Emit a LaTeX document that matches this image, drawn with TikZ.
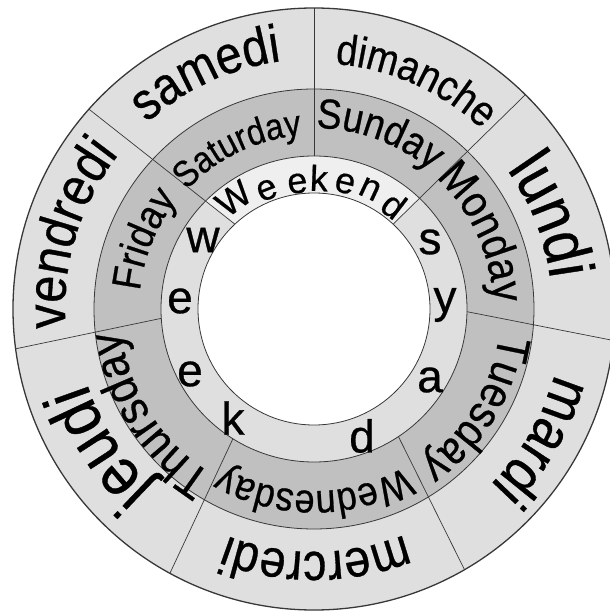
\documentclass[tikz,border=0pt]{standalone}
\usepackage{fontspec}
\setmainfont{Liberation Sans}
\newfontfamily\dayfont[FakeStretch=0.88, FakeBold=0.6]{Liberation Sans}
\newfontfamily\letterfont[FakeBold=0.6]{Liberation Sans}
\usetikzlibrary{decorations.text}
\definecolor{ringlight}{HTML}{DFDFDF}
\definecolor{ringdark}{HTML}{C0C0C0}
\definecolor{weekendfill}{HTML}{EFEFEF}
\definecolor{edgegray}{HTML}{383838}

\begin{document}
\begin{tikzpicture}[
    x=1pt, y=1pt,
    ring/.style={draw=edgegray, line width=0.8pt},
    divider/.style={draw=edgegray, line width=0.7pt},
    daytext/.style 2 args={
        decorate,
        decoration={text along path, text align=center,
            text={|\dayfont\fontsize{#1}{#1}\selectfont|#2}},
    },
    letter/.style={font=\letterfont\fontsize{46}{46}\selectfont, inner sep=0pt},
    wkletter/.style={font=\letterfont\fontsize{36}{36}\selectfont, inner sep=0pt},
]
\useasboundingbox (-314,-304) rectangle (296,309);

% --- ring fills ---
\fill[ringlight] (0,0) circle[radius=301];
\fill[ringdark] (0,0) circle[radius=220];
\fill[ringlight] (0,0) circle[radius=153];
\begin{scope}
    \clip (0,0) circle[radius=153];
    \fill[weekendfill] (138.4:301) -- (133:116) -- (0,0) -- (47:116)
        -- (45.4:301) -- (0,420) -- cycle;
\end{scope}
\fill[white] (0,0) circle[radius=116];

% --- ring outlines ---
\draw[ring, line width=1.3pt] (0,0) circle[radius=301];
\draw[ring] (0,0) circle[radius=220];
\draw[ring] (0,0) circle[radius=153];
\draw[ring] (0,0) circle[radius=116];

% --- day dividers ---
\draw[divider] (133:116) -- (138.4:301);   % vendredi / samedi
\draw[divider] (90:153) -- (90:301);       % samedi / dimanche
\draw[divider] (47:116) -- (45.4:301);     % dimanche / lundi
\draw[divider] (-1:153) -- (-6:301);       % lundi / mardi
\draw[divider] (-56.5:153) -- (-60:301);   % mardi / mercredi
\draw[divider] (-122:153) -- (-118.6:301); % mercredi / jeudi
\draw[divider] (183.5:153) -- (187.6:301); % jeudi / vendredi

% --- outer ring: French ---
\path[daytext={53}{samedi}] (164.7:250) arc[start angle=164.7, end angle=64.7, radius=250];
\path[daytext={43}{dimanche}] (116:246) arc[start angle=116, end angle=16, radius=246];
\path[daytext={64}{lundi}] (71.5:238) arc[start angle=71.5, end angle=-28.5, radius=238];
\path[daytext={59}{mardi}] (20:249) arc[start angle=20, end angle=-80, radius=249];
\path[daytext={53}{mercredi}] (-39.5:243) arc[start angle=-39.5, end angle=-139.5, radius=243];
\path[daytext={67}{jeudi}] (-97:239) arc[start angle=-97, end angle=-197, radius=239];
\path[daytext={55}{vendredi}] (213:249) arc[start angle=213, end angle=113, radius=249];

% --- middle ring: English ---
\path[daytext={37}{Saturday}] (165.5:174) arc[start angle=165.5, end angle=65.5, radius=174];
\path[daytext={42}{Sunday}] (119.5:181) arc[start angle=119.5, end angle=19.5, radius=181];
\path[daytext={45}{Monday}] (74.6:179) arc[start angle=74.6, end angle=-25.4, radius=179];
\path[daytext={46}{Tuesday}] (18.4:187) arc[start angle=18.4, end angle=-81.6, radius=187];
\path[daytext={41}{Wednesday}] (-40:182) arc[start angle=-40, end angle=-140, radius=182];
\path[daytext={48}{Thursday}] (262.5:194) arc[start angle=262.5, end angle=162.5, radius=194];
\path[daytext={41}{Friday}] (207.7:175) arc[start angle=207.7, end angle=107.7, radius=175];

% --- inner ring: weekdays / Weekend ---
\foreach \ch/\px/\py [count=\i] in {w/-111/69, e/-134/8, e/-124/-65, k/-81/-109,
        d/48/-127, a/116/-71, y/131/4, s/116/67}
    \node[letter] (wd-\i) at (\px,\py) {\ch};

\foreach \ch/\px/\py/\rot [count=\i] in {W/-80.5/110.5/36, e/-47/119/21.6,
        e/-16.5/125.5/7.5, k/5/131/-2.2, e/31/125.5/-13.9, n/56/120/-25,
        d/80/104/-37.6}
    \node[wkletter, rotate=\rot] (we-\i) at (\px,\py) {\ch};

\end{tikzpicture}
\end{document}
